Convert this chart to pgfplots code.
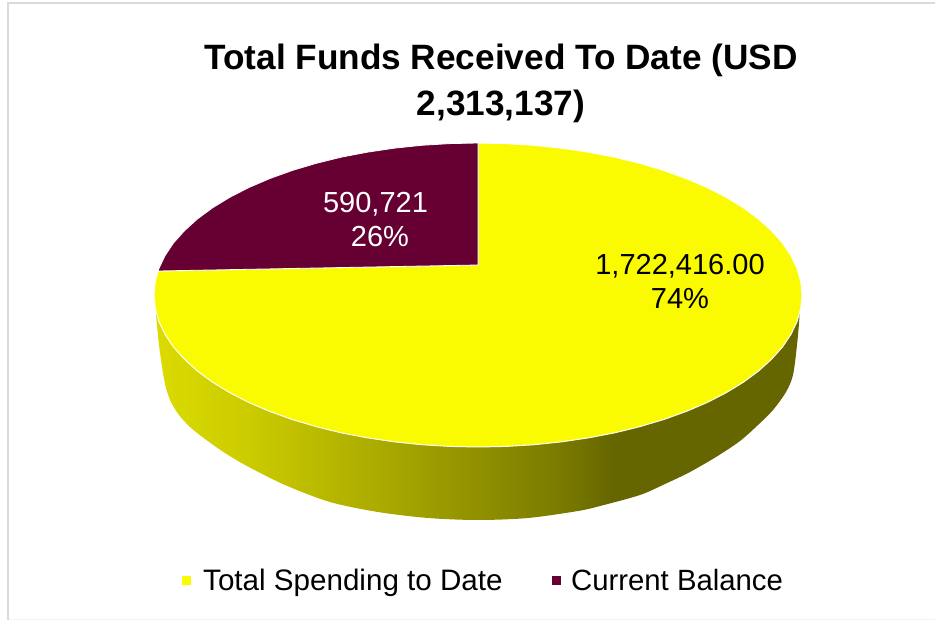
\documentclass[border=0pt]{standalone}
\usepackage{fontspec}
\setmainfont{Liberation Sans}
\usepackage{pgfplots}
\pgfplotsset{compat=1.18}
\definecolor{pieyellow}{HTML}{FAFB00}
\definecolor{piemaroon}{HTML}{660033}
\definecolor{frame}{HTML}{DADADA}
\definecolor{sa}{RGB}{220,220,0}
\definecolor{sb}{RGB}{203,203,0}
\definecolor{sc}{RGB}{191,191,0}
\definecolor{sd}{RGB}{165,165,0}
\definecolor{se}{RGB}{144,144,0}
\definecolor{sf}{RGB}{122,122,0}
\definecolor{sg}{RGB}{102,102,0}
% side of the pie: path width maps to 25bp..75bp
\pgfdeclarehorizontalshading{pieside}{100bp}{
  color(0bp)=(sa); color(25bp)=(sa); color(32.4bp)=(sb); color(36.2bp)=(sc);
  color(44bp)=(sd); color(50bp)=(se); color(56.4bp)=(sf); color(60.3bp)=(sg); color(100bp)=(sg)}
\begin{document}
\begin{tikzpicture}
\begin{axis}[
  width=935pt, height=620pt, scale only axis,
  xmin=0, xmax=935, ymin=0, ymax=620, y dir=reverse,
  axis lines=none, ticks=none,
]
% keep the whole canvas in the page box
\path (axis cs:0,0) rectangle (axis cs:935,620);
% chart frame
\addplot[frame, line width=2pt] coordinates {(8,620) (8,3.5) (935,3.5)};
\addplot[black!5, line width=1pt] coordinates {(9,619) (935,619)};
% side wall
\addplot[shading=pieside, draw=none, smooth, tension=0.5] coordinates {
  (156,315) (159,345) (163,373) (166,388) (171,402) (179,415) (190,427) (205,439) (225,453) (247,466) (285,485) (330,502)
  (378,512) (428,518) (478,520) (528,518) (578,511) (600,506) (640,495) (665,484) (690,472) (716,457) (740,441) (758,425)
  (773,410) (786,392) (793,375) (797,345) (799.5,315) (798,300) (790,285) (700,280) (260,280) (166,285) (158,300)} --cycle;
% spending slice
\addplot[fill=pieyellow, draw=white, line width=1pt] coordinates {
  (478,265) (478,143) (506.2,143.6) (534.3,145.3) (561.9,148.2) (588.8,152.2) (614.9,157.2) (640,163.4)
  (663.8,170.5) (686.3,178.6) (707.1,187.5) (726.2,197.3) (743.4,207.8) (758.6,219) (771.6,230.8) (782.5,243)
  (791,255.7) (797.1,268.6) (800.8,281.7) (802,295) (800.8,308.3) (797.1,321.4) (791,334.3) (782.5,347)
  (771.6,359.2) (758.6,371) (743.4,382.2) (726.2,392.7) (707.1,402.5) (686.3,411.4) (663.8,419.5) (640,426.6)
  (614.9,432.8) (588.8,437.8) (561.9,441.8) (534.3,444.7) (506.2,446.4) (478,447) (449.8,446.4) (421.7,444.7)
  (394.1,441.8) (367.2,437.8) (341.1,432.8) (316,426.6) (292.2,419.5) (269.7,411.4) (248.9,402.5) (229.8,392.7)
  (212.6,382.2) (197.4,371) (184.4,359.2) (173.5,347) (165,334.3) (158.9,321.4) (155.2,308.3) (154,295)
  (155.2,281.7) (158,271) (478,265)};
% balance slice
\addplot[fill=piemaroon, draw=white, line width=0.8pt] coordinates {
  (478,265) (158,271) (158.9,268.6) (165,255.7) (173.5,243) (184.4,230.8) (197.4,219) (212.6,207.8)
  (229.8,197.3) (248.9,187.5) (269.7,178.6) (292.2,170.5) (316,163.4) (341.1,157.2) (367.2,152.2)
  (394.1,148.2) (421.7,145.3) (449.8,143.6) (478,143) (478,265)};
% legend keys
\addplot[only marks, mark=square*, mark size=4pt, mark options={fill=pieyellow, draw=pieyellow}] coordinates {(186,580)};
\addplot[only marks, mark=square*, mark size=4pt, mark options={fill=piemaroon, draw=piemaroon}] coordinates {(556,580)};
\node[align=center, font=\fontsize{35.2}{46}\selectfont\bfseries] at (axis cs:501,83) {Total Funds Received To Date (USD\\2,313,137)};
\node[align=center, text=white, font=\fontsize{29}{34}\selectfont] at (axis cs:380,219.5) {590,721\hspace*{9pt}\\26\%};
\node[align=center, font=\fontsize{29}{34}\selectfont] at (axis cs:680,281) {1,722,416.00\\74\%};
\node[anchor=base west, inner sep=0pt, font=\fontsize{29.6}{34}\selectfont] at (axis cs:203,590) {Total Spending to Date};
\node[anchor=base west, inner sep=0pt, font=\fontsize{29.3}{34}\selectfont] at (axis cs:571,590) {Current Balance};
\end{axis}
\end{tikzpicture}
\end{document}
